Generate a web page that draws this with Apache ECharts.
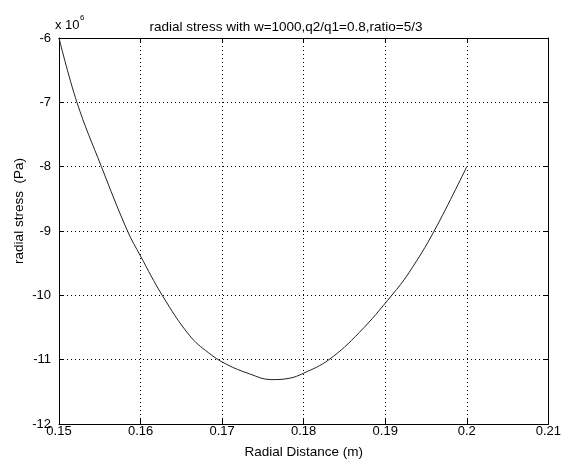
<!DOCTYPE html>
<html>
<head>
<meta charset="utf-8">
<script src="https://cdn.jsdelivr.net/npm/echarts@6/dist/echarts.min.js"></script>
<style>
  html, body { margin: 0; padding: 0; background: #fff; }
  #main { width: 564px; height: 464px; }
</style>
</head>
<body>
<div id="main"></div>
<script>
// radial distance (m) and radial stress (x 10^6 Pa)
var radialDistance = [0.150, 0.1522, 0.1552, 0.1584, 0.1600, 0.16266, 0.16598, 0.1683, 0.1705,
    0.17335, 0.1760, 0.1782, 0.1800, 0.1831, 0.1868, 0.1908, 0.1929, 0.1960, 0.2000];
var radialStress = [-6.00, -7.00, -8.00, -9.00, -9.39, -10.00, -10.62, -10.89, -11.07,
    -11.22, -11.31, -11.29, -11.21, -11.00, -10.58, -10.00, -9.65, -9.00, -8.00];

var xTicks = [0.15, 0.16, 0.17, 0.18, 0.19, 0.2, 0.21];
var yTicks = [-12, -11, -10, -9, -8, -7, -6];

var fontFam = '"Liberation Sans", Arial, sans-serif';

var chart = echarts.init(document.getElementById('main'));

var points = [];
for (var i = 0; i < radialDistance.length; i++) {
    points.push([radialDistance[i], radialStress[i]]);
}

var gridLine = { show: true, lineStyle: { color: '#000', width: 1, type: [1, 3] } };
var boxLine = { show: true, lineStyle: { color: '#000', width: 1 } };
var inTick = { show: true, inside: true, length: 5, lineStyle: { color: '#000' } };

option = {
    backgroundColor: '#fff',
    animation: false,
    title: {
        text: 'radial stress with w=1000,q2/q1=0.8,ratio=5/3',
        left: 281,
        top: 15,
        textAlign: 'center',
        textStyle: { fontFamily: fontFam, fontSize: 13.5, fontWeight: 'normal', color: '#000' }
    },
    graphic: [
        {
            type: 'text', left: 55, top: 19,
            style: { text: 'x 10', font: '13px ' + fontFam, fill: '#000' }
        },
        {
            type: 'text', left: 80, top: 14,
            style: { text: '6', font: '8px ' + fontFam, fill: '#000' }
        },
        {
            type: 'text', x: 19, y: 211, rotation: Math.PI / 2,
            style: {
                text: 'radial stress  (Pa)', font: '13.5px ' + fontFam, fill: '#000',
                align: 'center', verticalAlign: 'middle'
            }
        }
    ],
    grid: { left: 59, right: 15, top: 38, bottom: 39, containLabel: false },
    xAxis: [
        {
            type: 'value',
            min: xTicks[0], max: xTicks[xTicks.length - 1], interval: 0.01,
            name: 'Radial Distance (m)',
            nameLocation: 'middle',
            nameGap: 21,
            nameTextStyle: { fontFamily: fontFam, fontSize: 13.5, color: '#000' },
            axisLine: boxLine,
            axisTick: inTick,
            axisLabel: {
                fontFamily: fontFam, fontSize: 13, color: '#000', margin: 1,
                formatter: function (v) { return String(+v.toFixed(2)); }
            },
            splitLine: gridLine
        },
        {
            type: 'value', position: 'top',
            min: xTicks[0], max: xTicks[xTicks.length - 1], interval: 0.01,
            axisLine: boxLine,
            axisTick: inTick,
            axisLabel: { show: false },
            splitLine: { show: false }
        }
    ],
    yAxis: [
        {
            type: 'value',
            min: yTicks[0], max: yTicks[yTicks.length - 1], interval: 1,
            axisLine: boxLine,
            axisTick: inTick,
            axisLabel: { fontFamily: fontFam, fontSize: 13, color: '#000', margin: 8 },
            splitLine: gridLine
        },
        {
            type: 'value', position: 'right',
            min: yTicks[0], max: yTicks[yTicks.length - 1], interval: 1,
            axisLine: boxLine,
            axisTick: inTick,
            axisLabel: { show: false },
            splitLine: { show: false }
        }
    ],
    series: [
        {
            name: 'radial stress',
            type: 'line',
            xAxisIndex: 0,
            yAxisIndex: 0,
            smooth: 0.4,
            symbol: 'none',
            lineStyle: { color: '#222', width: 1 },
            data: points
        }
    ]
};

chart.setOption(option);
</script>
</body>
</html>
